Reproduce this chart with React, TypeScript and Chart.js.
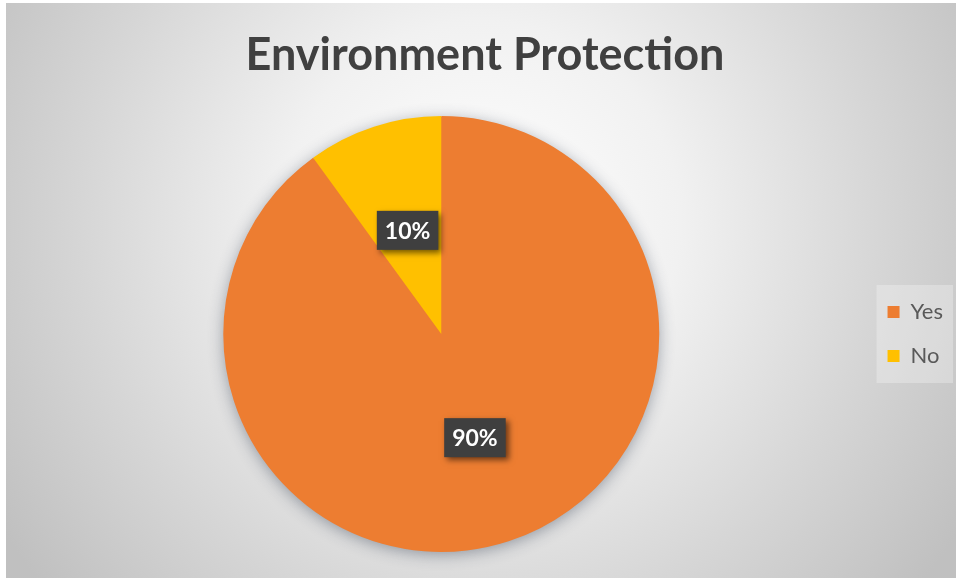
import React, { useEffect, useRef } from "react";
import { Chart, registerables } from "chart.js";

Chart.register(...registerables);

const categories: string[] = ["Yes", "No"];
const values: number[] = [90, 10];
const sliceColors: string[] = ["#ED7D31", "#FFC000"];
const chartTitle = "Environment Protection";

const panelBackground = {
  id: "panelBackground",
  beforeDraw(chart: any) {
    const { ctx, width, height } = chart;
    ctx.save();
    const cx = width * 0.5;
    const cy = height * 0.38;
    const g = ctx.createRadialGradient(cx, cy, 0, cx, cy, width * 0.6);
    g.addColorStop(0, "#ffffff");
    g.addColorStop(0.35, "#f1f1f1");
    g.addColorStop(0.7, "#d6d6d6");
    g.addColorStop(1, "#c0c0c0");
    ctx.fillStyle = g;
    ctx.fillRect(0, 0, width, height);
    const lg = chart.legend;
    if (lg && lg.options.display && lg.legendHitBoxes && lg.legendHitBoxes.length) {
      const hb = lg.legendHitBoxes;
      const first = hb[0];
      const last = hb[hb.length - 1];
      const x0 = Math.min(...hb.map((h: any) => h.left)) - 11;
      const x1 = Math.max(...hb.map((h: any) => h.left + h.width)) + 10;
      const y0 = first.top - 16;
      const y1 = last.top + last.height + 16;
      ctx.fillStyle = "rgba(255,255,255,0.28)";
      ctx.fillRect(x0, y0, x1 - x0, y1 - y0);
    }
    ctx.restore();
  },
};

const pieShadow = {
  id: "pieShadow",
  beforeDatasetsDraw(chart: any) {
    const meta = chart.getDatasetMeta(0);
    if (!meta || !meta.data.length) return;
    const arc = meta.data[0];
    const { ctx } = chart;
    ctx.save();
    ctx.beginPath();
    ctx.arc(arc.x, arc.y, arc.outerRadius - 1, 0, Math.PI * 2);
    ctx.fillStyle = sliceColors[0];
    ctx.shadowColor = "rgba(40,50,70,0.45)";
    ctx.shadowBlur = 16;
    ctx.shadowOffsetX = 0;
    ctx.shadowOffsetY = 3;
    ctx.fill();
    ctx.restore();
  },
};

const dataLabels = {
  id: "dataLabels",
  afterDatasetsDraw(chart: any) {
    const { ctx } = chart;
    const meta = chart.getDatasetMeta(0);
    const data: number[] = chart.data.datasets[0].data as number[];
    const total = data.reduce((a, b) => a + b, 0);
    meta.data.forEach((arc: any, i: number) => {
      const p = arc.getCenterPoint();
      const text = Math.round((data[i] / total) * 100) + "%";
      ctx.save();
      ctx.font = "bold 23px Lato";
      const tw = ctx.measureText(text).width;
      const bw = tw + 16;
      const bh = 39;
      ctx.shadowColor = "rgba(0,0,0,0.55)";
      ctx.shadowBlur = 6;
      ctx.shadowOffsetX = 3;
      ctx.shadowOffsetY = 3;
      ctx.fillStyle = "#3f3f3f";
      ctx.fillRect(p.x - bw / 2, p.y - bh / 2, bw, bh);
      ctx.shadowColor = "transparent";
      ctx.fillStyle = "#ffffff";
      ctx.textAlign = "center";
      ctx.textBaseline = "middle";
      ctx.fillText(text, p.x, p.y + 1);
      ctx.restore();
    });
  },
};

export default function App() {
  const canvasRef = useRef<HTMLCanvasElement | null>(null);

  useEffect(() => {
    if (!canvasRef.current) return;
    const chart = new Chart(canvasRef.current, {
      type: "pie",
      data: {
        labels: categories,
        datasets: [
          {
            data: values,
            backgroundColor: sliceColors,
            borderWidth: 0,
          },
        ],
      },
      options: {
        animation: false,
        responsive: true,
        maintainAspectRatio: false,
        layout: { padding: { left: 11, right: 3, top: 0, bottom: 26 } },
        plugins: {
          title: {
            display: true,
            text: chartTitle,
            color: "#404040",
            font: { family: "Lato", size: 45, weight: "bold" },
            padding: { top: 25, bottom: 34 },
          },
          legend: {
            display: true,
            position: "right",
            fullSize: false,
            labels: {
              color: "#595959",
              font: { family: "Lato", size: 22 },
              boxWidth: 12,
              boxHeight: 12,
              padding: 22,
            },
          },
          tooltip: { enabled: false },
        },
      },
      plugins: [panelBackground, pieShadow, dataLabels],
    });
    return () => chart.destroy();
  }, []);

  return (
    <div style={{ position: "fixed", left: 0, top: 0, width: 956, height: 578, background: "#ffffff" }}>
      <div style={{ position: "absolute", left: 6, top: 3, width: 950, height: 575 }}>
        <canvas ref={canvasRef} />
      </div>
    </div>
  );
}
